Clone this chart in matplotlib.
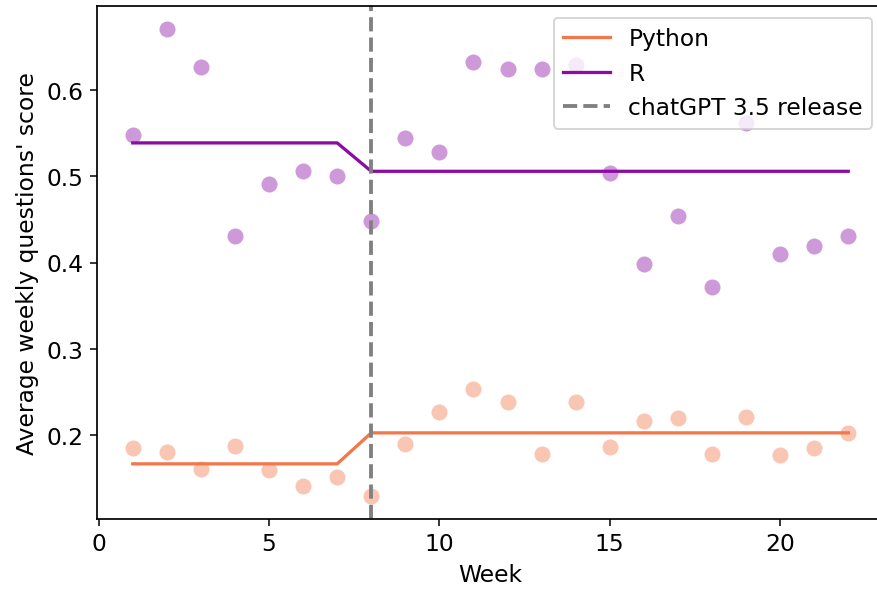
import matplotlib
matplotlib.use('Agg')
from matplotlib import pyplot as plt

weeks = list(range(1, 23))

python_scores = [0.184, 0.180, 0.160, 0.187, 0.159, 0.140, 0.151, 0.129,
                 0.189, 0.226, 0.253, 0.238, 0.178, 0.238, 0.186, 0.216,
                 0.219, 0.177, 0.220, 0.176, 0.184, 0.202]
r_scores = [0.548, 0.671, 0.627, 0.431, 0.491, 0.506, 0.500, 0.448,
            0.545, 0.528, 0.633, 0.625, 0.625, 0.629, 0.504, 0.398,
            0.454, 0.371, 0.562, 0.410, 0.419, 0.431]

# fitted levels before / after release (line drawn per week)
python_pre, python_post = 0.166, 0.202
r_pre, r_post = 0.539, 0.506
release_week = 8

python_fit = [python_pre if w < release_week else python_post for w in weeks]
r_fit = [r_pre if w < release_week else r_post for w in weeks]

py_color = '#f0784a'
r_color = '#8c0ca3'

plt.rcParams['font.size'] = 12.2
plt.rcParams['axes.linewidth'] = 0.9

dpi = 138
fig = plt.figure(figsize=(877 / dpi, 594 / dpi), dpi=dpi)
ax = fig.add_axes([97 / 877, 74 / 594, 787 / 877, 513 / 594])

ax.scatter(weeks, python_scores, s=70, color=py_color, alpha=0.42, linewidths=0)
ax.scatter(weeks, r_scores, s=70, color=r_color, alpha=0.42, linewidths=0)
ax.plot(weeks, python_fit, color=py_color, linewidth=1.7, label='Python')
ax.plot(weeks, r_fit, color=r_color, linewidth=1.7, label='R')
ax.axvline(release_week, color='gray', linestyle='--', linewidth=2, label='chatGPT 3.5 release')

ax.set_xlabel('Week')
ax.set_ylabel("Average weekly questions' score")
ax.set_xticks([0, 5, 10, 15, 20])
ax.set_yticks([0.2, 0.3, 0.4, 0.5, 0.6])
ax.legend(loc='upper right')

plt.savefig('out.png', dpi=dpi)
